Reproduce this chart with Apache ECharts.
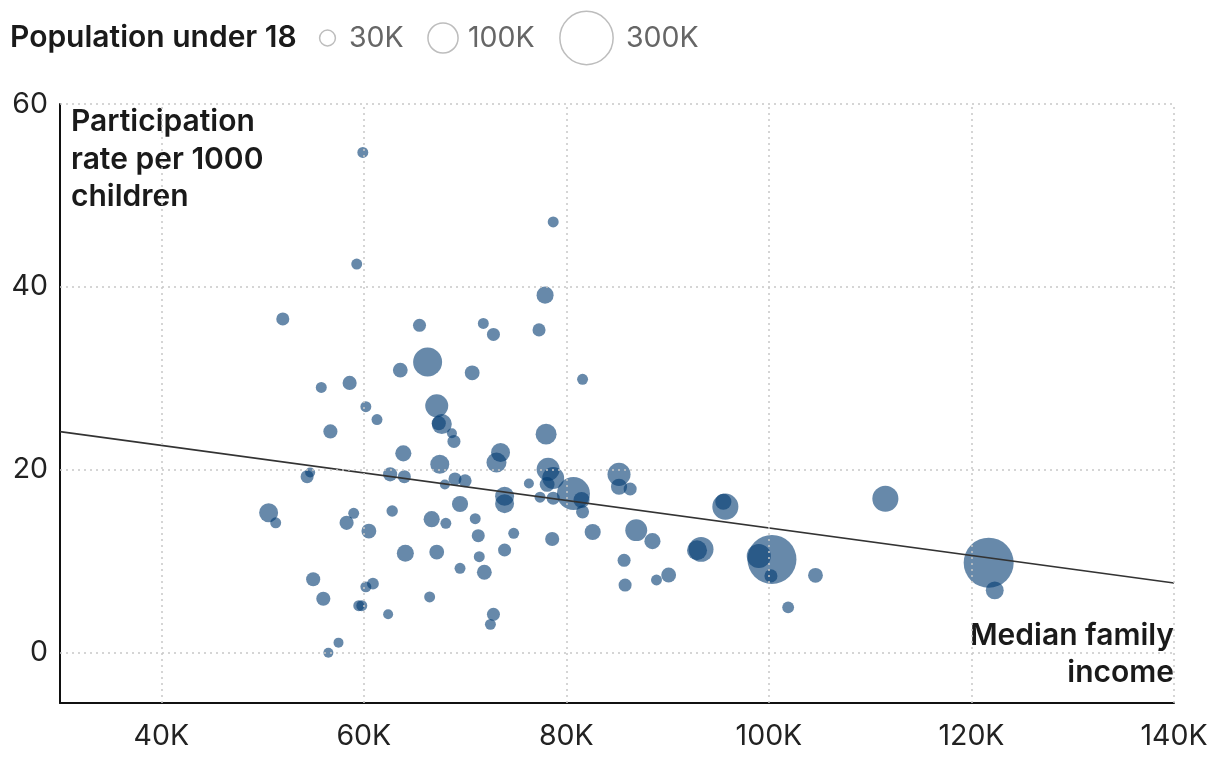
<!DOCTYPE html>
<html>
<head>
<meta charset="utf-8">
<script src="https://cdn.jsdelivr.net/npm/echarts@6/dist/echarts.min.js"></script>
<style>
html,body{margin:0;padding:0;background:#fff;}
#chart{width:1220px;height:764px;}
</style>
</head>
<body>
<div id="chart"></div>
<script>
// Median family income (thousands of $)
var income = [59.9,59.3,52.0,78.7,77.9,65.5,55.8,58.6,60.2,71.8,72.8,77.3,66.3,63.6,70.7,81.6,67.2,61.3,67.4,67.7,68.7,68.9,56.7,63.9,67.5,73.5,73.1,78.0,62.6,64.0,69.0,70.0,68.0,76.3,78.2,78.7,78.1,80.7,81.5,78.7,77.4,81.6,73.9,73.9,71.0,71.3,74.8,73.9,78.6,71.4,71.9,72.8,72.5,82.6,86.9,88.5,85.7,85.8,88.9,90.1,92.9,93.3,85.2,85.2,86.3,95.7,95.5,100.3,99.0,100.2,104.6,101.9,111.5,121.7,122.3,54.4,54.7,50.6,51.3,59.0,58.3,60.5,62.8,66.7,68.1,69.5,64.1,67.2,69.5,55.0,56.0,60.2,60.9,59.5,59.8,62.4,66.5,57.5,56.5];
// Participation rate per 1000 children
var rate = [54.7,42.5,36.5,47.1,39.1,35.8,29.0,29.5,26.9,36.0,34.8,35.3,31.8,30.9,30.6,29.9,27.0,25.5,25.1,25.0,24.0,23.1,24.2,21.8,20.6,21.9,20.8,23.9,19.5,19.25,19.0,18.8,18.4,18.5,20.05,19.1,18.4,17.4,16.7,16.9,17.0,15.4,17.1,16.3,14.65,12.8,13.06,11.23,12.43,10.5,8.8,4.2,3.1,13.2,13.4,12.2,10.1,7.4,7.95,8.5,11.2,11.3,19.5,18.15,17.9,15.97,16.5,10.2,10.57,8.4,8.46,4.96,16.84,9.84,6.82,19.25,19.7,15.3,14.2,15.24,14.2,13.3,15.5,14.6,14.15,16.26,10.87,11.0,9.23,8.03,5.9,7.2,7.55,5.14,5.14,4.2,6.1,1.1,0.0];
// Population under 18 (thousands)
var population = [12,12,17,12,29,17,12,20,12,12,17,17,84,22,22,12,53,12,20,40,10,17,20,26,36,36,40,44,20,17,17,17,10,10,53,48,22,109,26,17,12,17,36,36,12,17,12,17,20,12,22,17,12,26,48,26,17,17,12,22,40,62,53,26,17,68,26,240,58,17,22,14,68,250,32,17,10,36,12,12,20,22,13,26,12,26,29,22,12,20,20,12,14,12,12,10,12,10,10];
// Trend line endpoints (income K, rate)
var trendIncome = [30, 140];
var trendRate = [24.17, 7.62];
// Tick labels
var xTicks = [40, 60, 80, 100, 120, 140];
var yTicks = [0, 20, 40, 60];
// Size legend
var legendPops = [30, 100, 300];
var legendLabels = ['30K', '100K', '300K'];

function sizeOf(popK){ return 0.1 * Math.sqrt(popK * 1000); }

var points = income.map(function(x, i){ return [x, rate[i], population[i]]; });
var trend = trendIncome.map(function(x, i){ return [x, trendRate[i]]; });

var FONT = 'Inter, "Noto Sans", sans-serif';
var chart = echarts.init(document.getElementById('chart'), null, {renderer:'canvas'});

var legendX = [327.5, 443, 586.5];
var legendTextX = [349, 468, 626];
var BOLD = '600 30px ' + FONT;
var graphics = [
  {type:'text', x:10, y:38, style:{text:'Population under 18', font:'600 30px ' + FONT, fill:'#1a1a1a', verticalAlign:'middle'}},
  {type:'text', x:71, y:122, style:{text:'Participation', font:BOLD, fill:'#1a1a1a', verticalAlign:'middle'}},
  {type:'text', x:71, y:160, style:{text:'rate per 1000', font:BOLD, fill:'#1a1a1a', verticalAlign:'middle'}},
  {type:'text', x:71, y:197, style:{text:'children', font:BOLD, fill:'#1a1a1a', verticalAlign:'middle'}},
  {type:'text', x:1174, y:636, style:{text:'Median family', font:BOLD, fill:'#1a1a1a', align:'right', verticalAlign:'middle'}},
  {type:'text', x:1174, y:673, style:{text:'income', font:BOLD, fill:'#1a1a1a', align:'right', verticalAlign:'middle'}}
];
legendPops.forEach(function(p, i){
  graphics.push({type:'circle', shape:{cx:legendX[i], cy:38, r:sizeOf(p)/2 - 0.75}, style:{fill:'none', stroke:'#bdbdbd', lineWidth:1.5}});
  graphics.push({type:'text', x:legendTextX[i], y:38, style:{text:legendLabels[i], font:'400 28.5px ' + FONT, fill:'#666', verticalAlign:'middle'}});
});

var option = {
  backgroundColor:'#fff',
  animation:false,
  grid:{left:60, right:46, top:104, bottom:61, containLabel:false},
  xAxis:{
    type:'value', min:30, max:140,
    axisLine:{show:true, onZero:false, lineStyle:{color:'#111', width:2}},
    axisTick:{show:false},
    splitLine:{show:false},
    axisLabel:{customValues:xTicks, formatter:function(v){return v + 'K';}, fontSize:28.5, fontFamily:FONT, color:'#222', margin:19}
  },
  yAxis:{
    type:'value', min:-5.5, max:60,
    axisLine:{show:true, onZero:false, lineStyle:{color:'#111', width:2}},
    axisTick:{show:false},
    splitLine:{show:false},
    axisLabel:{customValues:yTicks, fontSize:28.5, fontFamily:FONT, color:'#222', margin:12}
  },
  graphic:graphics,
  series:[
    {
      type:'line', data:[], silent:true, z:1,
      markLine:{
        silent:true, symbol:'none', label:{show:false},
        lineStyle:{color:'#c8c8c8', width:1.5, type:[2,4]},
        data: xTicks.map(function(v){return {xAxis:v};}).concat(yTicks.map(function(v){return {yAxis:v};}))
      }
    },
    {
      type:'scatter', data:points, z:3,
      symbolSize:function(v){ return sizeOf(v[2]); },
      itemStyle:{color:'rgb(2,58,113)', opacity:0.6},
      emphasis:{disabled:true}
    },
    {
      type:'line', data:trend, z:4, symbol:'none', silent:true,
      lineStyle:{color:'#333', width:1.6}
    }
  ]
};
chart.setOption(option);
</script>
</body>
</html>
